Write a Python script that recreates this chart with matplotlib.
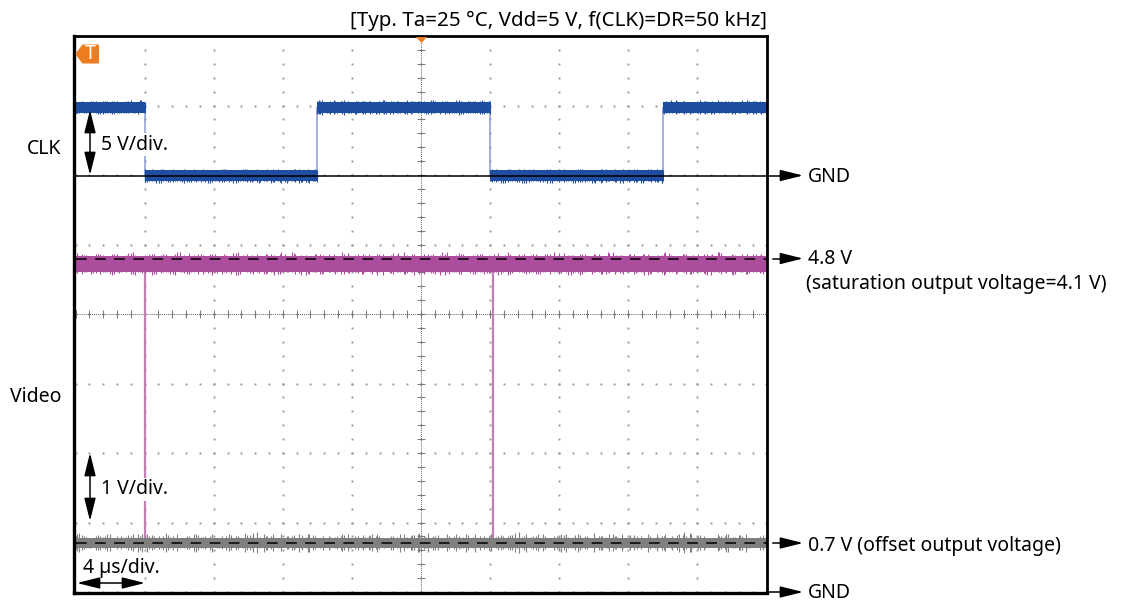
import matplotlib.pyplot as plt
import numpy as np
from matplotlib.patches import Polygon

plt.rcParams['font.family'] = ['Noto Sans', 'DejaVu Sans']

# time axis in us, 4 us/div, 10 div. noise envelopes are 100 samples over 40 us
clk_edges = [4, 14, 24, 34]
clk_high = 4.88
clk_low = -0.05
clk_gnd_div = 6
video_edges = [4.05, 24.15]
video_high = 4.7
video_low = 0.72

clk_upper = [.40,.44,.37,.46,.42,.34,.45,.40,.48,.39,.41,.46,.35,.43,.49,.38,.42,.45,.37,.44,
             .40,.47,.34,.42,.45,.39,.51,.37,.43,.46,.40,.35,.48,.42,.39,.45,.37,.50,.41,.44,
             .38,.46,.42,.35,.49,.40,.44,.37,.47,.41,.43,.52,.36,.45,.40,.48,.38,.42,.46,.35,
             .44,.40,.49,.37,.43,.46,.39,.34,.48,.41,.45,.38,.50,.42,.36,.44,.47,.40,.43,.37,
             .46,.41,.49,.35,.45,.40,.54,.42,.38,.47,.43,.37,.50,.41,.45,.39,.34,.46,.42,.40]
clk_lower = [-.44,-.38,-.48,-.41,-.50,-.39,-.45,-.42,-.37,-.49,-.43,-.40,-.52,-.38,-.46,-.41,-.48,-.37,-.44,-.50,
             -.40,-.45,-.42,-.51,-.38,-.47,-.43,-.39,-.54,-.41,-.46,-.37,-.49,-.44,-.40,-.48,-.42,-.52,-.38,-.45,
             -.50,-.41,-.37,-.47,-.43,-.51,-.39,-.45,-.48,-.40,-.42,-.50,-.37,-.46,-.44,-.53,-.39,-.41,-.48,-.43,
             -.38,-.49,-.45,-.40,-.52,-.42,-.37,-.47,-.50,-.41,-.44,-.39,-.48,-.43,-.51,-.38,-.46,-.41,-.54,-.40,
             -.45,-.49,-.37,-.43,-.50,-.42,-.47,-.39,-.52,-.44,-.40,-.48,-.38,-.45,-.51,-.42,-.41,-.47,-.39,-.44]

video_upper = [4.84,4.86,4.83,4.87,4.85,4.82,4.86,4.84,4.88,4.83,4.85,4.87,4.82,4.86,4.84,4.89,4.83,4.85,4.86,4.82,
               4.87,4.84,4.83,4.88,4.85,4.82,4.86,4.84,4.87,4.83,4.86,4.89,4.82,4.85,4.84,4.87,4.83,4.86,4.82,4.88,
               4.85,4.84,4.87,4.83,4.86,4.82,4.85,4.89,4.84,4.83,4.87,4.85,4.82,4.86,4.84,4.88,4.83,4.85,4.87,4.82,
               4.86,4.84,4.89,4.83,4.85,4.82,4.87,4.84,4.86,4.83,4.88,4.85,4.82,4.86,4.84,4.87,4.83,4.89,4.85,4.82,
               4.86,4.84,4.87,4.83,4.85,4.88,4.82,4.86,4.84,4.83,4.87,4.85,4.89,4.82,4.86,4.84,4.83,4.87,4.85,4.84]
video_lower = [4.60,4.58,4.62,4.59,4.61,4.57,4.60,4.62,4.58,4.61,4.59,4.56,4.62,4.60,4.58,4.61,4.57,4.60,4.62,4.59,
               4.61,4.58,4.60,4.56,4.62,4.59,4.61,4.57,4.60,4.58,4.62,4.60,4.59,4.56,4.61,4.58,4.62,4.60,4.57,4.59,
               4.61,4.58,4.62,4.60,4.56,4.59,4.61,4.57,4.60,4.62,4.58,4.59,4.61,4.56,4.60,4.58,4.62,4.57,4.60,4.59,
               4.61,4.58,4.56,4.62,4.60,4.59,4.57,4.61,4.58,4.60,4.62,4.56,4.59,4.61,4.58,4.60,4.57,4.62,4.59,4.61,
               4.58,4.60,4.56,4.62,4.59,4.61,4.57,4.60,4.58,4.62,4.59,4.56,4.61,4.60,4.58,4.62,4.57,4.60,4.59,4.61]

offset_upper = [.80,.82,.78,.81,.79,.83,.80,.76,.81,.84,.79,.82,.80,.85,.81,.78,.80,.83,.79,.74,
                .72,.80,.83,.81,.78,.82,.86,.84,.80,.78,.73,.81,.84,.79,.82,.78,.72,.70,.81,.83,
                .80,.78,.82,.80,.72,.70,.79,.83,.81,.84,.80,.78,.82,.73,.71,.80,.84,.79,.81,.78,
                .72,.82,.80,.85,.79,.73,.81,.83,.71,.80,.82,.78,.84,.80,.72,.81,.79,.83,.78,.71,
                .82,.80,.84,.78,.81,.73,.70,.82,.85,.79,.81,.72,.83,.80,.78,.82,.84,.73,.81,.79]
offset_lower = [.62,.60,.64,.61,.63,.59,.62,.65,.61,.58,.63,.60,.62,.57,.61,.64,.62,.59,.63,.67,
                .68,.62,.59,.61,.64,.60,.56,.58,.62,.64,.68,.61,.58,.63,.60,.64,.68,.69,.61,.59,
                .62,.64,.60,.62,.67,.69,.63,.59,.61,.58,.62,.64,.60,.68,.69,.62,.58,.63,.61,.64,
                .68,.60,.62,.57,.63,.67,.61,.59,.69,.62,.60,.64,.58,.62,.68,.61,.63,.59,.64,.69,
                .60,.62,.58,.64,.61,.67,.69,.60,.57,.63,.61,.68,.59,.62,.64,.60,.58,.67,.61,.63]

header = '[Typ. Ta=25 °C, Vdd=5 V, f(CLK)=DR=50 kHz]'

fig = plt.figure(figsize=(11.31, 6.01), dpi=100)
ax = fig.add_axes([74 / 1131, 1 - 592.5 / 601, 693 / 1131, 556.5 / 601])
ax.set_xlim(-0.087, 40.03)
ax.set_ylim(-0.007, 8.0)
ax.set_xticks([])
ax.set_yticks([])
for s in ax.spines.values():
    s.set_linewidth(2.0)
    s.set_zorder(10)
ax.spines['left'].set_linewidth(2.4)
ax.spines['bottom'].set_linewidth(2.4)

# graticule dots
sub_x = np.arange(0, 40.01, 0.8)
sub_y = np.arange(0, 8.01, 0.2)
for row in range(0, 9):
    ax.plot(sub_x, np.full_like(sub_x, row), ls='none', marker='s', ms=1.4, mew=0, color='#999999', zorder=1)
for col in range(4, 40, 4):
    ax.plot(np.full_like(sub_y, col), sub_y, ls='none', marker='s', ms=1.4, mew=0, color='#999999', zorder=1)
ax.plot([0, 40], [4, 4], color='#666666', lw=0.7, ls=(0, (1, 1)), zorder=1)
ax.plot([20, 20], [0, 8], color='#666666', lw=0.7, ls=(0, (1, 1)), zorder=1)
ax.plot(sub_x, np.full_like(sub_x, 4), ls='none', marker='|', ms=6, mew=0.7, color='#777777', zorder=1)
ax.plot(np.full_like(sub_y, 20), sub_y, ls='none', marker='_', ms=6, mew=0.7, color='#777777', zorder=1)

samples = np.linspace(0, 40, 100)


def band(t, up, lo, color, margin):
    # solid core with thin spikes behind it, looks closer to the scope noise than a polygon
    up = np.asarray(up)
    lo = np.asarray(lo)
    mid = (up.mean() + lo.mean()) / 2
    half = (up.mean() - lo.mean()) / 2 - margin
    ax.fill_between([t[0], t[-1]], mid + half, mid - half, color=color, lw=0, zorder=3)
    ax.vlines(t, lo, up, color=color, lw=0.8, zorder=2.5)
    ax.vlines(t[:-1] + np.diff(t) / 2, np.roll(lo, 37)[:-1], np.roll(up, 37)[:-1], color=color, lw=0.8, zorder=2.5)
    ax.vlines(t[:-1] + np.diff(t) / 4, np.roll(lo, 61)[:-1], np.roll(up, 61)[:-1], color=color, lw=0.8, zorder=2.5)


# CLK trace, one block per level so the edges stay square
segments = np.array([0] + clk_edges + [40])
for i in range(len(segments) - 1):
    level = clk_high if i % 2 == 0 else clk_low
    m = (samples >= segments[i]) & (samples <= segments[i + 1])
    t = np.r_[segments[i], samples[m], segments[i + 1]]
    first = np.argmax(m)
    up = np.r_[clk_upper[first], np.array(clk_upper)[m], clk_upper[first]]
    lo = np.r_[clk_lower[first], np.array(clk_lower)[m], clk_lower[first]]
    band(t, clk_gnd_div + (level + up) / 5, clk_gnd_div + (level + lo) / 5, '#1f4da0', 0.005)
ax.vlines(clk_edges, clk_gnd_div + clk_low / 5, clk_gnd_div + clk_high / 5, color='#8a9bd2', lw=1.1, zorder=2)

# Video trace
ax.vlines(video_edges, video_low, video_high, color='#c27fb6', lw=1.6, zorder=2)
band(samples, video_upper, video_lower, '#ab4c9c', 0.01)
band(samples, offset_upper, offset_lower, '#7f7f7f', 0.015)

# overlay in pixels for the annotations
ov = fig.add_axes([0, 0, 1, 1], facecolor='none')
ov.set_xlim(0, 1131)
ov.set_ylim(601, 0)
ov.axis('off')


def arrow(x0, y0, x1, y1, style='-|>'):
    ov.annotate('', xy=(x1, y1), xytext=(x0, y0),
                arrowprops=dict(arrowstyle=f'{style},head_length=1.0,head_width=0.25', color='black',
                                lw=1.1, shrinkA=0, shrinkB=0, mutation_scale=14), annotation_clip=False)


def label(x, y, s, bg=False, ha='left', size=14):
    ov.text(x, y + 1.5, s, fontsize=size, ha=ha, va='center', color='black',
            bbox=dict(fc='white', ec='none', pad=1) if bg else None)


# reference lines
ov.plot([76, 782], [175.5, 175.5], color='black', lw=1.1)
arrow(780, 175.5, 803, 175.5)
ov.plot([76, 767], [258.5, 258.5], color='black', lw=1.1, ls=(0, (7, 5.5)))
ov.plot([773, 782], [258.5, 258.5], color='black', lw=1.1)
arrow(780, 258.5, 803, 258.5)
ov.plot([76, 767], [543, 543], color='black', lw=1.1, ls=(0, (7, 5.5)))
ov.plot([773, 782], [543, 543], color='black', lw=1.1)
arrow(780, 543, 803, 543)
arrow(767, 592, 803, 592)

# scale labels and arrows
label(101, 143, '5 V/div.', bg=True)
label(101, 488, '1 V/div.', bg=True)
label(83, 566, '4 µs/div.')
arrow(90, 175, 90, 110, '<|-|>')
arrow(90, 453, 90, 521, '<|-|>')
arrow(77, 583, 145, 583, '<|-|>')

label(61, 147, 'CLK', ha='right')
label(61, 395, 'Video', ha='right')
label(808, 176, 'GND')
label(808, 258, '4.8 V')
label(806, 283, '(saturation output voltage=4.1 V)')
label(808, 544, '0.7 V (offset output voltage)')
label(808, 591, 'GND')
label(767, 19, header, ha='right', size=14.8)

# trigger markers
ov.add_patch(Polygon([[76.5, 54], [83, 45.5], [98, 45.5], [98, 62.5], [83, 62.5]], closed=True,
                     fc='#ee7d22', ec='#ee7d22', lw=1.5, joinstyle='round', zorder=5))
ov.text(90, 54, 'T', color='white', fontsize=14, fontweight='bold', ha='center', va='center', zorder=6)
ov.add_patch(Polygon([[416, 37], [427, 37], [421.5, 43]], closed=True, fc='#ee7d22', ec='none', zorder=5))

plt.savefig('out.png', dpi=100)
plt.close()
